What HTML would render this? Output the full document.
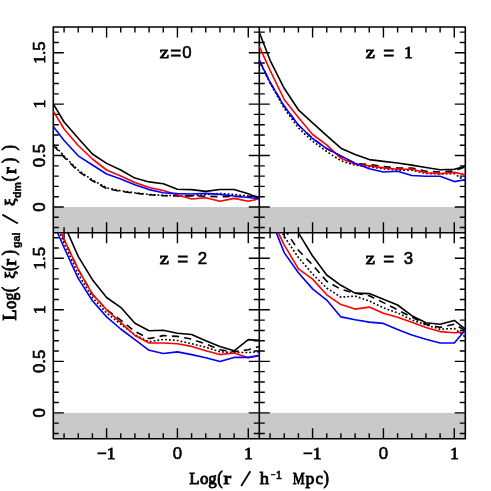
<!DOCTYPE html>
<html><head><meta charset="utf-8"><title>chart</title>
<style>html,body{margin:0;padding:0;background:#fff;}svg{display:block;}</style>
</head><body>
<svg width="491" height="491" viewBox="0 0 491 491">
<defs>
<clipPath id="c1"><rect x="52.60" y="27.00" width="207.40" height="205.80"/></clipPath>
<clipPath id="c2"><rect x="258.60" y="27.00" width="207.40" height="205.80"/></clipPath>
<clipPath id="c3"><rect x="52.60" y="232.80" width="207.40" height="205.80"/></clipPath>
<clipPath id="c4"><rect x="258.60" y="232.80" width="207.40" height="205.80"/></clipPath>
</defs>
<rect width="491" height="491" fill="#fff"/>
<rect x="53.30" y="206.99" width="412.00" height="25.81" fill="#c9c9c9"/>
<rect x="53.30" y="412.85" width="412.00" height="25.85" fill="#c9c9c9"/>
<g stroke="#000" stroke-width="1.60" fill="none">
<rect x="53.30" y="27.00" width="412.00" height="411.70" stroke-linejoin="round"/>
<path d="M259.30,27.00 V438.70 M53.30,232.80 H465.30"/>
</g>
<path d="M64.07,27.00 v5.50 M64.07,227.30 v11.00 M64.07,438.70 v-5.50 M78.24,27.00 v5.50 M78.24,227.30 v11.00 M78.24,438.70 v-5.50 M92.41,27.00 v5.50 M92.41,227.30 v11.00 M92.41,438.70 v-5.50 M106.58,27.00 v10.50 M106.58,222.30 v21.00 M106.58,438.70 v-10.50 M120.75,27.00 v5.50 M120.75,227.30 v11.00 M120.75,438.70 v-5.50 M134.92,27.00 v5.50 M134.92,227.30 v11.00 M134.92,438.70 v-5.50 M149.09,27.00 v5.50 M149.09,227.30 v11.00 M149.09,438.70 v-5.50 M163.26,27.00 v5.50 M163.26,227.30 v11.00 M163.26,438.70 v-5.50 M177.43,27.00 v10.50 M177.43,222.30 v21.00 M177.43,438.70 v-10.50 M191.60,27.00 v5.50 M191.60,227.30 v11.00 M191.60,438.70 v-5.50 M205.77,27.00 v5.50 M205.77,227.30 v11.00 M205.77,438.70 v-5.50 M219.94,27.00 v5.50 M219.94,227.30 v11.00 M219.94,438.70 v-5.50 M234.11,27.00 v5.50 M234.11,227.30 v11.00 M234.11,438.70 v-5.50 M248.28,27.00 v10.50 M248.28,222.30 v21.00 M248.28,438.70 v-10.50 M270.07,27.00 v5.50 M270.07,227.30 v11.00 M270.07,438.70 v-5.50 M284.24,27.00 v5.50 M284.24,227.30 v11.00 M284.24,438.70 v-5.50 M298.41,27.00 v5.50 M298.41,227.30 v11.00 M298.41,438.70 v-5.50 M312.58,27.00 v10.50 M312.58,222.30 v21.00 M312.58,438.70 v-10.50 M326.75,27.00 v5.50 M326.75,227.30 v11.00 M326.75,438.70 v-5.50 M340.92,27.00 v5.50 M340.92,227.30 v11.00 M340.92,438.70 v-5.50 M355.09,27.00 v5.50 M355.09,227.30 v11.00 M355.09,438.70 v-5.50 M369.26,27.00 v5.50 M369.26,227.30 v11.00 M369.26,438.70 v-5.50 M383.43,27.00 v10.50 M383.43,222.30 v21.00 M383.43,438.70 v-10.50 M397.60,27.00 v5.50 M397.60,227.30 v11.00 M397.60,438.70 v-5.50 M411.77,27.00 v5.50 M411.77,227.30 v11.00 M411.77,438.70 v-5.50 M425.94,27.00 v5.50 M425.94,227.30 v11.00 M425.94,438.70 v-5.50 M440.11,27.00 v5.50 M440.11,227.30 v11.00 M440.11,438.70 v-5.50 M454.28,27.00 v10.50 M454.28,222.30 v21.00 M454.28,438.70 v-10.50 M53.30,227.56 h5.50 M253.80,227.56 h11.00 M465.30,227.56 h-5.50 M53.30,217.27 h5.50 M253.80,217.27 h11.00 M465.30,217.27 h-5.50 M53.30,206.99 h10.50 M248.80,206.99 h21.00 M465.30,206.99 h-10.50 M53.30,196.70 h5.50 M253.80,196.70 h11.00 M465.30,196.70 h-5.50 M53.30,186.42 h5.50 M253.80,186.42 h11.00 M465.30,186.42 h-5.50 M53.30,176.13 h5.50 M253.80,176.13 h11.00 M465.30,176.13 h-5.50 M53.30,165.85 h5.50 M253.80,165.85 h11.00 M465.30,165.85 h-5.50 M53.30,155.56 h10.50 M248.80,155.56 h21.00 M465.30,155.56 h-10.50 M53.30,145.28 h5.50 M253.80,145.28 h11.00 M465.30,145.28 h-5.50 M53.30,134.99 h5.50 M253.80,134.99 h11.00 M465.30,134.99 h-5.50 M53.30,124.71 h5.50 M253.80,124.71 h11.00 M465.30,124.71 h-5.50 M53.30,114.42 h5.50 M253.80,114.42 h11.00 M465.30,114.42 h-5.50 M53.30,104.14 h10.50 M248.80,104.14 h21.00 M465.30,104.14 h-10.50 M53.30,93.85 h5.50 M253.80,93.85 h11.00 M465.30,93.85 h-5.50 M53.30,83.57 h5.50 M253.80,83.57 h11.00 M465.30,83.57 h-5.50 M53.30,73.28 h5.50 M253.80,73.28 h11.00 M465.30,73.28 h-5.50 M53.30,63.00 h5.50 M253.80,63.00 h11.00 M465.30,63.00 h-5.50 M53.30,52.71 h10.50 M248.80,52.71 h21.00 M465.30,52.71 h-10.50 M53.30,42.43 h5.50 M253.80,42.43 h11.00 M465.30,42.43 h-5.50 M53.30,32.14 h5.50 M253.80,32.14 h11.00 M465.30,32.14 h-5.50 M53.30,433.46 h5.50 M253.80,433.46 h11.00 M465.30,433.46 h-5.50 M53.30,423.16 h5.50 M253.80,423.16 h11.00 M465.30,423.16 h-5.50 M53.30,412.85 h10.50 M248.80,412.85 h21.00 M465.30,412.85 h-10.50 M53.30,402.55 h5.50 M253.80,402.55 h11.00 M465.30,402.55 h-5.50 M53.30,392.25 h5.50 M253.80,392.25 h11.00 M465.30,392.25 h-5.50 M53.30,381.94 h5.50 M253.80,381.94 h11.00 M465.30,381.94 h-5.50 M53.30,371.64 h5.50 M253.80,371.64 h11.00 M465.30,371.64 h-5.50 M53.30,361.34 h10.50 M248.80,361.34 h21.00 M465.30,361.34 h-10.50 M53.30,351.03 h5.50 M253.80,351.03 h11.00 M465.30,351.03 h-5.50 M53.30,340.73 h5.50 M253.80,340.73 h11.00 M465.30,340.73 h-5.50 M53.30,330.43 h5.50 M253.80,330.43 h11.00 M465.30,330.43 h-5.50 M53.30,320.13 h5.50 M253.80,320.13 h11.00 M465.30,320.13 h-5.50 M53.30,309.82 h10.50 M248.80,309.82 h21.00 M465.30,309.82 h-10.50 M53.30,299.52 h5.50 M253.80,299.52 h11.00 M465.30,299.52 h-5.50 M53.30,289.22 h5.50 M253.80,289.22 h11.00 M465.30,289.22 h-5.50 M53.30,278.91 h5.50 M253.80,278.91 h11.00 M465.30,278.91 h-5.50 M53.30,268.61 h5.50 M253.80,268.61 h11.00 M465.30,268.61 h-5.50 M53.30,258.31 h10.50 M248.80,258.31 h21.00 M465.30,258.31 h-10.50 M53.30,248.00 h5.50 M253.80,248.00 h11.00 M465.30,248.00 h-5.50 M53.30,237.70 h5.50 M253.80,237.70 h11.00 M465.30,237.70 h-5.50" stroke="#000" stroke-width="1.40" fill="none"/>
<g clip-path="url(#c1)" fill="none" stroke-width="1.60" stroke-linejoin="round">
<path d="M53.3,144.2 L64.1,156.0 L78.2,170.2 L92.4,179.9 L106.6,187.8 L120.7,190.8 L134.9,192.8 L149.1,194.4 L163.3,195.4 L177.4,195.7 L191.6,195.7 L205.8,194.5 L219.9,193.5 L234.1,194.5 L248.3,196.0 L259.3,196.5" stroke="#000" stroke-dasharray="1.8 2.1"/>
<path d="M53.3,145.2 L64.1,157.2 L78.2,171.2 L92.4,180.8 L106.6,188.6 L120.7,191.4 L134.9,193.2 L149.1,194.8 L163.3,195.6 L177.4,195.9 L191.6,195.9 L205.8,196.2 L219.9,196.7 L234.1,196.4 L248.3,196.8 L259.3,194.4" stroke="#000" stroke-dasharray="7.2 5.2"/>
<path d="M53.3,103.9 L64.1,122.0 L78.2,138.2 L92.4,154.0 L106.6,163.4 L120.7,170.0 L134.9,178.1 L149.1,181.9 L163.3,183.7 L177.4,189.2 L191.6,189.6 L205.8,191.4 L219.9,189.5 L234.1,189.5 L248.3,193.8 L259.3,198.5" stroke="#000"/>
<path d="M53.3,111.2 L64.1,129.0 L78.2,145.5 L92.4,159.0 L106.6,170.0 L120.7,176.0 L134.9,182.5 L149.1,187.5 L163.3,190.5 L177.4,195.1 L191.6,199.0 L205.8,197.7 L219.9,201.2 L234.1,198.4 L248.3,201.2 L259.3,198.7" stroke="#ff0000"/>
<path d="M53.3,126.5 L64.1,140.5 L78.2,155.8 L92.4,165.0 L106.6,174.0 L120.7,178.9 L134.9,184.7 L149.1,189.6 L163.3,192.7 L177.4,193.6 L191.6,194.0 L205.8,193.4 L219.9,194.4 L234.1,196.0 L248.3,197.5 L259.3,198.7" stroke="#0000ff"/>
</g>
<g clip-path="url(#c2)" fill="none" stroke-width="1.60" stroke-linejoin="round">
<path d="M259.3,60.8 L270.1,83.2 L284.2,108.3 L298.4,128.0 L312.6,141.2 L326.7,151.5 L340.9,160.8 L355.1,165.2 L369.3,166.8 L383.4,168.8 L397.6,170.2 L411.8,170.2 L425.9,173.4 L440.1,174.0 L454.3,173.6 L465.3,181.0" stroke="#000" stroke-dasharray="1.8 2.1"/>
<path d="M259.3,60.3 L270.1,82.3 L284.2,106.3 L298.4,125.0 L312.6,138.5 L326.7,148.6 L340.9,156.2 L355.1,163.4 L369.3,164.6 L383.4,166.6 L397.6,168.0 L411.8,168.0 L425.9,171.2 L440.1,172.0 L454.3,171.0 L465.3,166.8" stroke="#000" stroke-dasharray="7.2 5.2"/>
<path d="M259.3,32.3 L270.1,60.3 L284.2,88.3 L298.4,109.8 L312.6,122.9 L326.7,135.7 L340.9,148.2 L355.1,154.6 L369.3,159.6 L383.4,161.4 L397.6,163.0 L411.8,165.1 L425.9,167.5 L440.1,169.7 L454.3,169.3 L465.3,166.3" stroke="#000"/>
<path d="M259.3,46.4 L270.1,70.4 L284.2,99.5 L298.4,117.4 L312.6,134.5 L326.7,144.9 L340.9,158.3 L355.1,164.2 L369.3,165.9 L383.4,167.9 L397.6,169.3 L411.8,169.3 L425.9,172.8 L440.1,173.6 L454.3,172.4 L465.3,174.8" stroke="#ff0000"/>
<path d="M259.3,60.3 L270.1,82.3 L284.2,106.3 L298.4,125.0 L312.6,138.5 L326.7,148.6 L340.9,155.9 L355.1,163.2 L369.3,168.7 L383.4,172.0 L397.6,171.2 L411.8,175.5 L425.9,176.3 L440.1,176.3 L454.3,181.6 L465.3,179.7" stroke="#0000ff"/>
</g>
<g clip-path="url(#c3)" fill="none" stroke-width="1.60" stroke-linejoin="round">
<path d="M53.3,216.0 L64.1,243.5 L78.2,274.0 L92.4,297.5 L106.6,313.0 L120.7,324.2 L134.9,334.8 L149.1,341.8 L163.3,339.4 L177.4,340.5 L191.6,343.7 L205.8,347.2 L219.9,351.8 L234.1,352.5 L248.3,352.5 L259.3,351.8" stroke="#000" stroke-dasharray="1.8 2.1"/>
<path d="M53.3,213.0 L64.1,239.5 L78.2,269.4 L92.4,294.1 L106.6,309.6 L120.7,320.1 L134.9,331.5 L149.1,338.6 L163.3,335.6 L177.4,336.4 L191.6,339.1 L205.8,344.0 L219.9,349.7 L234.1,351.8 L248.3,349.7 L259.3,346.4" stroke="#000" stroke-dasharray="7.2 5.2"/>
<path d="M53.3,198.0 L64.1,224.3 L78.2,256.4 L92.4,279.7 L106.6,297.5 L120.7,307.3 L134.9,323.3 L149.1,330.8 L163.3,330.2 L177.4,333.2 L191.6,334.5 L205.8,340.7 L219.9,346.4 L234.1,350.8 L248.3,339.6 L259.3,340.4" stroke="#000"/>
<path d="M53.3,213.0 L64.1,239.5 L78.2,269.4 L92.4,294.1 L106.6,309.8 L120.7,322.4 L134.9,335.5 L149.1,343.0 L163.3,343.0 L177.4,343.8 L191.6,346.4 L205.8,350.8 L219.9,354.6 L234.1,353.0 L248.3,357.8 L259.3,355.7" stroke="#ff0000"/>
<path d="M53.3,223.0 L64.1,247.8 L78.2,278.4 L92.4,300.8 L106.6,316.9 L120.7,329.0 L134.9,339.7 L149.1,350.3 L163.3,353.5 L177.4,351.9 L191.6,354.6 L205.8,357.8 L219.9,361.6 L234.1,357.4 L248.3,357.4 L259.3,355.4" stroke="#0000ff"/>
</g>
<g clip-path="url(#c4)" fill="none" stroke-width="1.60" stroke-linejoin="round">
<path d="M259.3,180.0 L270.1,206.0 L284.2,236.5 L298.4,257.5 L312.6,274.0 L326.7,288.0 L340.9,297.2 L355.1,296.1 L369.3,301.0 L383.4,307.8 L397.6,312.9 L411.8,319.9 L425.9,324.9 L440.1,329.2 L454.3,328.5 L465.3,337.0" stroke="#000" stroke-dasharray="1.8 2.1"/>
<path d="M259.3,172.0 L270.1,198.0 L284.2,228.5 L298.4,250.3 L312.6,264.9 L326.7,281.2 L340.9,289.3 L355.1,293.2 L369.3,295.7 L383.4,302.6 L397.6,309.9 L411.8,317.1 L425.9,324.2 L440.1,327.4 L454.3,324.2 L465.3,330.6" stroke="#000" stroke-dasharray="7.2 5.2"/>
<path d="M259.3,150.0 L270.1,176.0 L284.2,205.0 L298.4,232.8 L312.6,256.0 L326.7,275.0 L340.9,285.3 L355.1,293.1 L369.3,293.6 L383.4,299.3 L397.6,305.0 L411.8,315.7 L425.9,322.8 L440.1,324.2 L454.3,320.4 L465.3,329.2" stroke="#000"/>
<path d="M259.3,188.0 L270.1,216.0 L284.2,244.8 L298.4,268.8 L312.6,279.1 L326.7,294.8 L340.9,304.6 L355.1,309.1 L369.3,307.1 L383.4,313.2 L397.6,317.2 L411.8,322.3 L425.9,327.4 L440.1,331.6 L454.3,332.8 L465.3,332.1" stroke="#ff0000"/>
<path d="M259.3,185.0 L270.1,217.0 L284.2,252.6 L298.4,272.8 L312.6,288.9 L326.7,300.1 L340.9,316.9 L355.1,319.8 L369.3,322.1 L383.4,323.4 L397.6,329.5 L411.8,335.0 L425.9,339.2 L440.1,343.0 L454.3,343.0 L465.3,329.9" stroke="#0000ff"/>
</g>
<g fill="#000" opacity="0.999">
<text transform="translate(45.00,206.99) rotate(-90) scale(1.000,1)" text-anchor="middle" font-family="Liberation Sans, sans-serif" font-weight="normal" stroke="#000" stroke-width="0.6" font-size="16.8">0</text>
<text transform="translate(45.00,155.56) rotate(-90) scale(1.000,1)" text-anchor="middle" font-family="Liberation Sans, sans-serif" font-weight="normal" stroke="#000" stroke-width="0.6" font-size="16.8">0.5</text>
<text transform="translate(45.00,104.14) rotate(-90) scale(1.000,1)" text-anchor="middle" font-family="Liberation Sans, sans-serif" font-weight="normal" stroke="#000" stroke-width="0.6" font-size="16.8"><tspan font-family="Liberation Serif, serif" font-weight="normal" font-size="17.6" stroke="#000" stroke-width="0.8">1</tspan></text>
<text transform="translate(45.00,52.71) rotate(-90) scale(1.000,1)" text-anchor="middle" font-family="Liberation Sans, sans-serif" font-weight="normal" stroke="#000" stroke-width="0.6" font-size="16.8"><tspan font-family="Liberation Serif, serif" font-weight="normal" font-size="17.6" stroke="#000" stroke-width="0.8">1</tspan>.5</text>
<text transform="translate(45.00,412.85) rotate(-90) scale(1.000,1)" text-anchor="middle" font-family="Liberation Sans, sans-serif" font-weight="normal" stroke="#000" stroke-width="0.6" font-size="16.8">0</text>
<text transform="translate(45.00,361.34) rotate(-90) scale(1.000,1)" text-anchor="middle" font-family="Liberation Sans, sans-serif" font-weight="normal" stroke="#000" stroke-width="0.6" font-size="16.8">0.5</text>
<text transform="translate(45.00,309.82) rotate(-90) scale(1.000,1)" text-anchor="middle" font-family="Liberation Sans, sans-serif" font-weight="normal" stroke="#000" stroke-width="0.6" font-size="16.8"><tspan font-family="Liberation Serif, serif" font-weight="normal" font-size="17.6" stroke="#000" stroke-width="0.8">1</tspan></text>
<text transform="translate(45.00,258.31) rotate(-90) scale(1.000,1)" text-anchor="middle" font-family="Liberation Sans, sans-serif" font-weight="normal" stroke="#000" stroke-width="0.6" font-size="16.8"><tspan font-family="Liberation Serif, serif" font-weight="normal" font-size="17.6" stroke="#000" stroke-width="0.8">1</tspan>.5</text>
<text transform="translate(106.28,458.60) scale(1.000,1)" text-anchor="middle" font-family="Liberation Sans, sans-serif" font-weight="normal" stroke="#000" stroke-width="0.6" font-size="16.8">−<tspan font-family="Liberation Serif, serif" font-weight="normal" font-size="17.6" stroke="#000" stroke-width="0.8">1</tspan></text>
<text transform="translate(177.43,458.60) scale(1.000,1)" text-anchor="middle" font-family="Liberation Sans, sans-serif" font-weight="normal" stroke="#000" stroke-width="0.6" font-size="16.8">0</text>
<text transform="translate(248.28,458.60) scale(1.000,1)" text-anchor="middle" font-family="Liberation Sans, sans-serif" font-weight="normal" stroke="#000" stroke-width="0.6" font-size="16.8"><tspan font-family="Liberation Serif, serif" font-weight="normal" font-size="17.6" stroke="#000" stroke-width="0.8">1</tspan></text>
<text transform="translate(312.28,458.60) scale(1.000,1)" text-anchor="middle" font-family="Liberation Sans, sans-serif" font-weight="normal" stroke="#000" stroke-width="0.6" font-size="16.8">−<tspan font-family="Liberation Serif, serif" font-weight="normal" font-size="17.6" stroke="#000" stroke-width="0.8">1</tspan></text>
<text transform="translate(383.43,458.60) scale(1.000,1)" text-anchor="middle" font-family="Liberation Sans, sans-serif" font-weight="normal" stroke="#000" stroke-width="0.6" font-size="16.8">0</text>
<text transform="translate(454.28,458.60) scale(1.000,1)" text-anchor="middle" font-family="Liberation Sans, sans-serif" font-weight="normal" stroke="#000" stroke-width="0.6" font-size="16.8"><tspan font-family="Liberation Serif, serif" font-weight="normal" font-size="17.6" stroke="#000" stroke-width="0.8">1</tspan></text>
<text transform="translate(164.30,58.40) scale(1.220,1)" text-anchor="middle" font-family="Liberation Serif, serif" font-weight="normal" stroke="#000" stroke-width="0.9" font-size="16.8">z</text>
<text transform="translate(175.80,59.20) scale(1.050,1)" text-anchor="middle" font-family="Liberation Sans, sans-serif" font-weight="normal" stroke="#000" stroke-width="0.6" font-size="18">=</text>
<text transform="translate(186.90,58.40) scale(1.000,1)" text-anchor="middle" font-family="Liberation Sans, sans-serif" font-weight="normal" stroke="#000" stroke-width="0.6" font-size="16.8">0</text>
<text transform="translate(370.40,58.40) scale(1.220,1)" text-anchor="middle" font-family="Liberation Serif, serif" font-weight="normal" stroke="#000" stroke-width="0.9" font-size="16.8">z</text>
<text transform="translate(388.70,59.20) scale(1.050,1)" text-anchor="middle" font-family="Liberation Sans, sans-serif" font-weight="normal" stroke="#000" stroke-width="0.6" font-size="18">=</text>
<text transform="translate(408.40,58.40) scale(1.000,1)" text-anchor="middle" font-family="Liberation Sans, sans-serif" font-weight="normal" stroke="#000" stroke-width="0.6" font-size="16.8"><tspan font-family="Liberation Serif, serif" font-weight="normal" font-size="17.6" stroke="#000" stroke-width="0.8">1</tspan></text>
<text transform="translate(164.40,264.20) scale(1.220,1)" text-anchor="middle" font-family="Liberation Serif, serif" font-weight="normal" stroke="#000" stroke-width="0.9" font-size="16.8">z</text>
<text transform="translate(182.70,265.00) scale(1.050,1)" text-anchor="middle" font-family="Liberation Sans, sans-serif" font-weight="normal" stroke="#000" stroke-width="0.6" font-size="18">=</text>
<text transform="translate(202.30,264.20) scale(1.000,1)" text-anchor="middle" font-family="Liberation Sans, sans-serif" font-weight="normal" stroke="#000" stroke-width="0.6" font-size="16.8">2</text>
<text transform="translate(370.40,264.20) scale(1.220,1)" text-anchor="middle" font-family="Liberation Serif, serif" font-weight="normal" stroke="#000" stroke-width="0.9" font-size="16.8">z</text>
<text transform="translate(388.70,265.00) scale(1.050,1)" text-anchor="middle" font-family="Liberation Sans, sans-serif" font-weight="normal" stroke="#000" stroke-width="0.6" font-size="18">=</text>
<text transform="translate(408.30,264.20) scale(1.000,1)" text-anchor="middle" font-family="Liberation Sans, sans-serif" font-weight="normal" stroke="#000" stroke-width="0.6" font-size="16.8">3</text>
<text transform="translate(194.40,483.60) scale(0.960,1)" text-anchor="middle" font-family="Liberation Serif, serif" font-weight="normal" stroke="#000" stroke-width="0.9" font-size="17.5">L</text>
<text transform="translate(204.20,483.60) scale(0.960,1)" text-anchor="middle" font-family="Liberation Serif, serif" font-weight="normal" stroke="#000" stroke-width="0.9" font-size="17.5">o</text>
<text transform="translate(212.40,483.60) scale(0.960,1)" text-anchor="middle" font-family="Liberation Serif, serif" font-weight="normal" stroke="#000" stroke-width="0.9" font-size="17.5">g</text>
<text transform="translate(219.90,483.60) scale(0.850,1)" text-anchor="middle" font-family="Liberation Serif, serif" font-weight="normal" stroke="#000" stroke-width="0.9" font-size="19.2">(</text>
<text transform="translate(227.30,483.60) scale(1.296,1)" text-anchor="middle" font-family="Liberation Serif, serif" font-weight="normal" stroke="#000" stroke-width="0.9" font-size="17.5">r</text>
<text transform="translate(264.40,483.60) scale(1.056,1)" text-anchor="middle" font-family="Liberation Serif, serif" font-weight="normal" stroke="#000" stroke-width="0.9" font-size="17.5">h</text>
<text transform="translate(298.70,483.60) scale(0.768,1)" text-anchor="middle" font-family="Liberation Serif, serif" font-weight="normal" stroke="#000" stroke-width="0.9" font-size="17.5">M</text>
<text transform="translate(310.00,483.60) scale(1.008,1)" text-anchor="middle" font-family="Liberation Serif, serif" font-weight="normal" stroke="#000" stroke-width="0.9" font-size="17.5">p</text>
<text transform="translate(319.10,483.60) scale(0.960,1)" text-anchor="middle" font-family="Liberation Serif, serif" font-weight="normal" stroke="#000" stroke-width="0.9" font-size="17.5">c</text>
<text transform="translate(326.20,483.60) scale(0.850,1)" text-anchor="middle" font-family="Liberation Serif, serif" font-weight="normal" stroke="#000" stroke-width="0.9" font-size="19.2">)</text>
<text transform="translate(273.40,478.20) scale(0.800,1)" text-anchor="middle" font-family="Liberation Sans, sans-serif" font-weight="normal" stroke="#000" stroke-width="0.6" font-size="10">−</text>
<text transform="translate(278.90,479.30) scale(1.000,1)" text-anchor="middle" font-family="Liberation Sans, sans-serif" font-weight="normal" stroke="#000" stroke-width="0.6" font-size="10.5">1</text>
<path d="M241.2,486.0 L250.3,471.2" stroke="#000" stroke-width="1.8" fill="none"/>
<text transform="translate(15.70,315.10) rotate(-90) scale(1.000,1)" text-anchor="middle" font-family="Liberation Serif, serif" font-weight="normal" stroke="#000" stroke-width="0.9" font-size="18.0">L</text>
<text transform="translate(15.70,304.90) rotate(-90) scale(0.920,1)" text-anchor="middle" font-family="Liberation Serif, serif" font-weight="normal" stroke="#000" stroke-width="0.9" font-size="18.0">o</text>
<text transform="translate(15.70,296.60) rotate(-90) scale(0.880,1)" text-anchor="middle" font-family="Liberation Serif, serif" font-weight="normal" stroke="#000" stroke-width="0.9" font-size="18.0">g</text>
<text transform="translate(15.70,262.40) rotate(-90) scale(1.100,1)" text-anchor="middle" font-family="Liberation Serif, serif" font-weight="normal" stroke="#000" stroke-width="0.9" font-size="18.0">r</text>
<text transform="translate(15.70,170.70) rotate(-90) scale(1.100,1)" text-anchor="middle" font-family="Liberation Serif, serif" font-weight="normal" stroke="#000" stroke-width="0.9" font-size="18.0">r</text>
<text transform="translate(14.50,274.90) rotate(-90) scale(1.120,1)" text-anchor="middle" font-family="Liberation Serif, serif" font-weight="normal" stroke="#000" stroke-width="0.9" font-size="15.5">ξ</text>
<text transform="translate(14.50,202.20) rotate(-90) scale(1.120,1)" text-anchor="middle" font-family="Liberation Serif, serif" font-weight="normal" stroke="#000" stroke-width="0.9" font-size="15.5">ξ</text>
<text transform="translate(15.30,289.50) rotate(-90) scale(0.850,1)" text-anchor="middle" font-family="Liberation Serif, serif" font-weight="normal" stroke="#000" stroke-width="0.9" font-size="19.2">(</text>
<text transform="translate(15.30,268.20) rotate(-90) scale(0.850,1)" text-anchor="middle" font-family="Liberation Serif, serif" font-weight="normal" stroke="#000" stroke-width="0.9" font-size="19.2">(</text>
<text transform="translate(15.30,252.70) rotate(-90) scale(0.850,1)" text-anchor="middle" font-family="Liberation Serif, serif" font-weight="normal" stroke="#000" stroke-width="0.9" font-size="19.2">)</text>
<text transform="translate(15.30,178.70) rotate(-90) scale(0.850,1)" text-anchor="middle" font-family="Liberation Serif, serif" font-weight="normal" stroke="#000" stroke-width="0.9" font-size="19.2">(</text>
<text transform="translate(15.30,160.60) rotate(-90) scale(0.850,1)" text-anchor="middle" font-family="Liberation Serif, serif" font-weight="normal" stroke="#000" stroke-width="0.9" font-size="19.2">)</text>
<text transform="translate(15.30,147.80) rotate(-90) scale(0.850,1)" text-anchor="middle" font-family="Liberation Serif, serif" font-weight="normal" stroke="#000" stroke-width="0.9" font-size="19.2">)</text>
<text transform="translate(20.30,240.20) rotate(-90) scale(1.000,1)" text-anchor="middle" font-family="Liberation Sans, sans-serif" font-weight="bold" stroke="#000" stroke-width="0.35" font-size="10.8">gal</text>
<text transform="translate(20.90,190.00) rotate(-90) scale(1.000,1)" text-anchor="middle" font-family="Liberation Sans, sans-serif" font-weight="bold" stroke="#000" stroke-width="0.35" font-size="10.6">dm</text>
<path d="M17.9,223.5 L2.4,214.6" stroke="#000" stroke-width="1.8" fill="none"/>
</g>
</svg>
</body></html>
